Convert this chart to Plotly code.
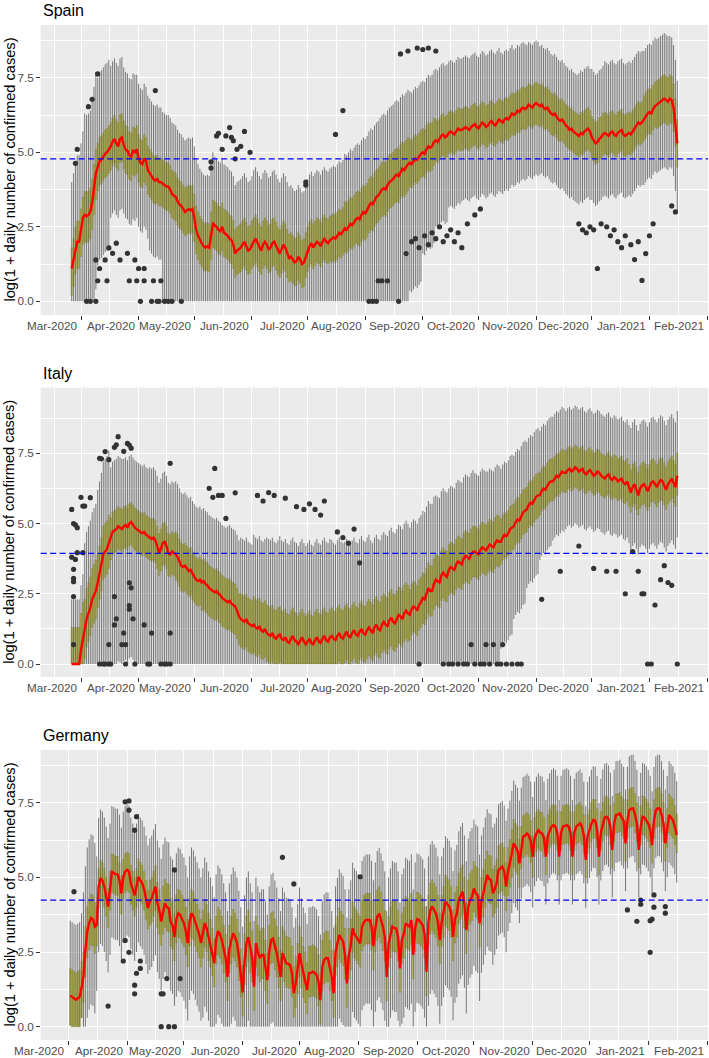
import numpy as np
import pandas as pd
import plotly.graph_objects as go

# ---------------- data ----------------
BASE = pd.Timestamp("2020-03-01")          # day 0
MONTH_TICKS = pd.date_range("2020-03-01", "2021-02-01", freq="MS")
TICK_FORMAT = "%b-%Y"
Y_TICKS = [0.0, 2.5, 5.0, 7.5]
Y_TICK_TEXT = ["0.0", "2.5", "5.0", "7.5"]

# ---- Spain: daily medians from 2020-02-25 (day -5) ----
spain_start = -5
spain_med = [
    1.1, 1.4, 1.8, 2.0, 2.0, 2.4, 2.8,
    2.9, 2.85, 2.9, 3.0, 3.3, 3.8, 4.3,
    4.5, 4.7, 4.75, 4.85, 4.95, 5.0, 5.1,
    5.2, 5.35, 5.45, 5.3, 5.2, 5.45, 5.5,
    5.25, 5.1, 5.05, 4.9, 4.85, 5.05, 5.0,
    5.1, 4.8, 4.65, 4.6, 4.8, 4.7, 4.4,
    4.3, 4.2, 4.1, 4.05, 4.1, 4.0, 4.0,
    3.95, 3.9, 3.85, 3.85, 3.75, 3.6, 3.55,
    3.5, 3.35, 3.25, 3.2, 3.1, 3.0, 3.05,
    3.1, 3.05, 3.1, 2.8, 2.4, 2.2, 2.05,
    1.95, 1.85, 1.8, 1.85, 1.8, 2.2, 2.6,
    2.55, 2.5, 2.4, 2.35, 2.5, 2.3, 2.25,
    2.2, 2.1, 2.05, 1.9, 1.6, 1.7, 1.75,
    1.8, 1.9, 2.0, 1.85, 1.7, 1.75, 1.9,
    2.0, 2.1, 1.95, 1.8, 1.7, 1.9, 2.0,
    1.9, 1.75, 1.8, 1.95, 2.0, 1.85, 1.7,
    1.6, 1.75, 1.9, 1.8, 1.6, 1.45, 1.5,
    1.4, 1.3, 1.35, 1.5, 1.4, 1.25, 1.3,
    1.5, 1.7, 1.85, 1.95, 1.8, 1.9, 2.0,
    1.95, 1.85, 2.0, 2.1, 2.0, 1.95, 2.05,
    2.1, 2.15, 2.1, 2.2, 2.3, 2.25, 2.35,
    2.45, 2.4, 2.5, 2.6, 2.55, 2.65, 2.75,
    2.8, 2.75, 2.9, 3.0, 2.95, 3.05, 3.2,
    3.3, 3.25, 3.4, 3.5, 3.55, 3.65, 3.75,
    3.8, 3.75, 3.9, 4.0, 4.05, 4.1, 4.2,
    4.25, 4.2, 4.35, 4.45, 4.4, 4.5, 4.6,
    4.65, 4.6, 4.7, 4.8, 4.75, 4.85, 4.95,
    5.0, 4.95, 5.1, 5.2, 5.15, 5.2, 5.35,
    5.4, 5.35, 5.45, 5.55, 5.6, 5.5, 5.55,
    5.65, 5.7, 5.65, 5.6, 5.7, 5.8, 5.75,
    5.75, 5.8, 5.85, 5.8, 5.75, 5.85, 5.9,
    5.95, 5.85, 5.8, 5.9, 6.0, 5.95, 5.85,
    5.9, 6.0, 6.05, 5.95, 5.9, 6.0, 6.1,
    6.05, 6.0, 6.1, 6.15, 6.1, 6.2, 6.3,
    6.25, 6.3, 6.4, 6.35, 6.45, 6.5, 6.45,
    6.5, 6.6, 6.55, 6.5, 6.6, 6.65, 6.6,
    6.55, 6.6, 6.5, 6.45, 6.5, 6.4, 6.3,
    6.25, 6.3, 6.2, 6.1, 6.05, 6.1, 6.0,
    5.9, 5.85, 5.75, 5.8, 5.7, 5.65, 5.6,
    5.55, 5.65, 5.6, 5.7, 5.75, 5.8, 5.7,
    5.5, 5.4, 5.3, 5.35, 5.45, 5.5, 5.6,
    5.65, 5.6, 5.55, 5.65, 5.7, 5.6, 5.55,
    5.65, 5.7, 5.75, 5.6, 5.55, 5.6, 5.65,
    5.6, 5.7, 5.8, 5.9, 6.0, 5.95, 6.0,
    6.1, 6.2, 6.3, 6.35, 6.3, 6.45, 6.55,
    6.6, 6.65, 6.7, 6.75, 6.8, 6.75, 6.7,
    6.8, 6.75, 6.5, 6.0, 5.3,
]
# weekly spreads (one value per 7 days): median-Q1, Q3-median, Q3->upper whisker, Q1->lower whisker
spain_q1_gap = [0.9, 0.9, 0.8, 0.8, 0.8, 0.8, 0.8, 0.8, 0.8, 0.8, 0.8, 0.8, 0.8, 0.8, 0.8, 0.8,
                0.8, 0.8, 0.7, 0.7, 0.8, 0.8, 0.9, 0.9, 0.9, 0.9, 0.8, 0.8, 0.7, 0.7, 0.7, 0.7,
                0.7, 0.7, 0.7, 0.7, 0.7, 0.7, 0.7, 0.7, 0.7, 0.7, 0.7, 0.7, 0.7, 0.8, 0.8]
spain_q3_gap = [0.7, 0.8, 0.8, 0.8, 0.8, 0.8, 0.8, 0.8, 0.8, 0.8, 0.8, 0.8, 0.8, 0.8, 0.8, 0.8,
                0.8, 0.8, 0.8, 0.8, 0.8, 0.9, 0.9, 0.9, 0.9, 0.9, 0.8, 0.8, 0.7, 0.7, 0.7, 0.7,
                0.7, 0.7, 0.7, 0.7, 0.7, 0.7, 0.7, 0.7, 0.7, 0.7, 0.7, 0.7, 0.8, 0.8, 0.8]
spain_top_gap = [2.2, 2.6, 2.2, 1.9, 1.8, 1.7, 1.7, 1.6, 1.6, 1.6, 1.6, 1.5, 1.5, 1.5, 1.6, 1.6,
                 1.6, 1.6, 1.6, 1.6, 1.6, 1.6, 1.6, 1.6, 1.6, 1.6, 1.6, 1.6, 1.7, 1.7, 1.7, 1.7,
                 1.7, 1.6, 1.5, 1.4, 1.3, 1.3, 1.3, 1.4, 1.6, 1.7, 1.7, 1.7, 1.5, 1.4, 1.3]
spain_low_gap = [2.5, 3.0, 2.5, 1.6, 1.5, 1.5, 1.8, 4.0, 4.0, 4.0, 4.0, 4.0, 4.0, 4.0, 4.0, 4.0,
                 4.0, 4.0, 4.0, 4.0, 4.0, 4.0, 4.0, 4.0, 4.0, 4.0, 3.5, 2.6, 2.2, 1.8, 1.7, 1.7,
                 1.7, 1.7, 1.7, 1.7, 1.6, 1.6, 1.6, 1.6, 1.4, 1.4, 1.4, 1.4, 1.5, 1.5, 1.5]
spain_out_day = [-3, -2, 4, 6, 9, 40,
                 3, 5, 8, 8, 10, 9, 14, 13, 15, 17, 19, 21, 25, 26, 29, 30, 31, 34, 34, 32,
                 38, 39, 41, 42, 43, 45, 47, 49, 54,
                 70, 70, 73, 74, 76, 78, 80, 81, 82, 83, 84, 86, 88, 91,
                 121, 121, 137, 141, 172, 176, 181, 184, 187, 191,
                 155, 157, 159, 171, 160, 162, 165, 175, 178, 180, 182, 185, 187, 189, 191,
                 193, 195, 197, 199, 201, 203, 205, 208, 212, 215,
                 268, 270, 272, 274, 276, 278, 280, 283, 285, 287, 289, 291, 293, 296, 298,
                 300, 302, 304, 306, 308, 318, 320]
spain_out_val = [4.63, 5.1, 6.53, 6.78, 7.63, 7.07,
                 0.0, 0.0, 0.0, 1.39, 1.1, 0.69, 0.69, 1.39, 1.79, 1.61, 1.95, 1.39, 1.61, 0.69,
                 1.39, 0.69, 1.1, 1.1, 0.69, 0.0,
                 0.0, 0.69, 0.0, 0.0, 0.69, 0.0, 0.0, 0.0, 0.0,
                 4.47, 4.68, 5.55, 5.64, 5.1, 5.55, 5.83, 5.5, 5.39, 4.78, 5.1, 5.2, 5.7, 5.0,
                 4.0, 3.9, 5.6, 6.4, 8.3, 8.4, 8.5, 8.45, 8.5, 8.4,
                 0.0, 0.0, 0.0, 0.0, 0.69, 0.69, 0.69, 1.6, 2.0, 2.1, 1.8, 2.2, 1.9, 2.3, 2.1,
                 2.5, 2.0, 2.2, 2.4, 2.0, 2.3, 1.8, 2.6, 2.9, 3.1,
                 2.6, 2.4, 2.3, 2.5, 2.4, 1.1, 2.6, 2.5, 2.2, 2.4, 2.0, 1.8, 2.2, 1.9, 1.4,
                 2.0, 0.7, 1.6, 2.2, 2.6, 3.2, 3.0]
spain_ref = 4.78

# ---- Italy: daily medians from 2020-02-25 (day -5) ----
italy_start = -5
italy_med = [
    0.0, 0.0, 0.0, 0.0, 0.0, 0.5, 0.9,
    1.2, 1.6, 1.8, 2.0, 2.3, 2.45, 2.6,
    2.9, 3.2, 3.5, 3.9, 4.0, 4.1, 4.3,
    4.5, 4.7, 4.75, 4.8, 4.9, 4.85, 4.8,
    4.9, 4.95, 4.85, 5.0, 5.05, 4.95, 4.85,
    4.8, 4.75, 4.7, 4.65, 4.7, 4.6, 4.55,
    4.5, 4.45, 4.5, 4.4, 4.2, 3.95, 4.1,
    4.3, 4.35, 4.2, 3.95, 3.9, 4.0, 3.95,
    3.9, 3.8, 3.65, 3.5, 3.45, 3.5, 3.4,
    3.3, 3.35, 3.2, 3.1, 3.0, 2.95, 3.0,
    2.9, 2.95, 2.85, 2.8, 2.7, 2.65, 2.6,
    2.55, 2.6, 2.5, 2.45, 2.35, 2.3, 2.25,
    2.2, 2.25, 2.15, 2.1, 2.05, 1.9, 1.7,
    1.6, 1.55, 1.5, 1.6, 1.45, 1.4, 1.35,
    1.4, 1.3, 1.25, 1.35, 1.2, 1.15, 1.25,
    1.1, 1.05, 1.0, 1.1, 0.95, 0.9, 1.0,
    1.05, 0.9, 0.85, 0.95, 0.8, 0.75, 0.9,
    1.0, 0.85, 0.8, 0.7, 0.85, 0.95, 0.8,
    0.7, 0.8, 0.9, 0.75, 0.7, 0.85, 0.95,
    0.8, 0.75, 0.9, 1.0, 0.85, 0.8, 0.95,
    1.0, 0.9, 0.85, 1.0, 1.1, 0.95, 0.9,
    1.05, 1.15, 1.0, 0.95, 1.1, 1.2, 1.05,
    1.0, 1.15, 1.25, 1.1, 1.05, 1.2, 1.3,
    1.2, 1.1, 1.3, 1.4, 1.25, 1.2, 1.4,
    1.5, 1.4, 1.35, 1.55, 1.65, 1.5, 1.45,
    1.6, 1.75, 1.7, 1.6, 1.8, 1.9, 1.8,
    1.75, 1.95, 2.05, 2.0, 1.9, 2.1, 2.2,
    2.35, 2.3, 2.5, 2.7, 2.6, 2.6, 2.85,
    3.0, 2.95, 2.9, 3.15, 3.25, 3.15, 3.1,
    3.35, 3.45, 3.4, 3.35, 3.55, 3.65, 3.6,
    3.55, 3.75, 3.85, 3.8, 3.75, 3.9, 4.0,
    4.0, 3.95, 3.9, 4.05, 4.15, 4.1, 4.05,
    4.15, 4.25, 4.2, 4.15, 4.3, 4.4, 4.35,
    4.35, 4.5, 4.6, 4.55, 4.65, 4.8, 4.85,
    4.9, 5.05, 5.15, 5.1, 5.25, 5.4, 5.45,
    5.5, 5.65, 5.75, 5.7, 5.85, 5.95, 6.0,
    6.0, 6.15, 6.25, 6.2, 6.35, 6.45, 6.5,
    6.5, 6.6, 6.7, 6.65, 6.75, 6.85, 6.8,
    6.8, 6.9, 6.95, 6.85, 6.9, 7.0, 6.95,
    6.85, 6.9, 6.95, 6.8, 6.75, 6.85, 6.9,
    6.8, 6.7, 6.75, 6.85, 6.8, 6.7, 6.65,
    6.6, 6.7, 6.75, 6.6, 6.55, 6.65, 6.6,
    6.5, 6.55, 6.6, 6.45, 6.4, 6.5, 6.3,
    6.1, 6.3, 6.4, 6.2, 6.0, 6.25, 6.35,
    6.4, 6.3, 6.15, 6.3, 6.45, 6.5, 6.4,
    6.3, 6.45, 6.55, 6.5, 6.35, 6.2, 6.4,
    6.5, 6.6, 6.45, 6.3, 6.7,
]
italy_q1_gap = [1.0, 1.0, 0.9, 0.8, 0.8, 0.8, 0.8, 0.8, 0.9, 0.9, 1.0, 1.0, 1.0, 1.0, 1.0, 1.0,
                1.0, 1.0, 1.0, 1.0, 1.0, 1.0, 1.0, 1.0, 1.0, 1.0, 0.9, 0.9, 0.9, 0.9, 0.9, 0.9,
                0.9, 0.8, 0.8, 0.8, 0.7, 0.7, 0.7, 0.7, 0.7, 0.7, 0.7, 0.7, 0.7, 0.7, 0.7]
italy_q3_gap = [1.3, 1.1, 1.0, 0.7, 0.7, 0.7, 0.7, 0.7, 0.8, 0.8, 0.8, 0.8, 0.8, 0.9, 1.0, 1.0,
                1.0, 1.0, 1.0, 1.0, 1.0, 1.0, 1.0, 1.0, 1.0, 1.0, 0.9, 0.9, 0.9, 0.9, 0.9, 0.9,
                0.9, 0.8, 0.8, 0.8, 0.8, 0.8, 0.8, 0.8, 0.8, 0.8, 0.8, 0.8, 0.8, 0.8, 0.8]
italy_top_gap = [1.0, 2.0, 2.3, 1.8, 1.7, 1.7, 1.8, 1.8, 1.8, 1.8, 1.8, 1.8, 1.9, 2.0, 2.2, 2.4,
                 2.5, 2.5, 2.5, 2.5, 2.4, 2.3, 2.3, 2.2, 2.2, 2.2, 2.2, 2.2, 2.1, 2.0, 2.0, 1.9,
                 1.8, 1.8, 1.7, 1.6, 1.5, 1.5, 1.4, 1.4, 1.4, 1.4, 1.4, 1.5, 1.5, 1.5, 1.5]
italy_low_gap = [0.0, 2.0, 4.0, 4.0, 4.0, 4.0, 4.0, 4.0, 4.0, 4.0, 4.0, 4.0, 4.0, 4.0, 4.0, 4.0,
                 4.0, 4.0, 4.0, 4.0, 4.0, 4.0, 4.0, 4.0, 4.0, 4.0, 4.0, 4.0, 4.0, 4.0, 4.0, 4.0,
                 4.0, 3.0, 2.5, 2.0, 1.6, 1.4, 1.3, 1.3, 1.3, 1.3, 1.3, 1.4, 1.5, 1.5, 1.5]
italy_out_day = [-5, -4, -3, -2, 0, 1, 2, 5,
                 -5, -4, -4, -4, -4, -4, -3, -2, 1,
                 10, 11, 13, 15, 18, 19, 20, 23, 25, 26, 27, 48,
                 72, 69, 71, 74, 76, 78, 83,
                 10, 12, 13, 15, 16, 15, 18, 18, 19, 23, 22, 24, 24, 26, 26, 26, 27, 28, 29,
                 34, 36, 37, 38, 43, 45, 46, 48, 48,
                 95, 98, 101, 104, 110, 116, 120, 123, 126, 129, 131, 138, 141, 144, 147, 150,
                 182, 195, 198, 200, 203, 206, 208, 212, 215, 217, 220, 224, 226, 229, 232, 235,
                 237, 210, 218, 222, 227,
                 248, 258, 268, 276, 283, 288, 293, 297, 300, 302, 303, 305, 307, 309, 312, 314,
                 316, 318, 321]
italy_out_val = [5.5, 5.0, 4.95, 4.85, 5.93, 5.62, 5.62, 5.92,
                 3.8, 3.37, 3.05, 2.93, 2.4, 0.69, 3.72, 3.96, 3.96,
                 7.32, 7.3, 7.56, 7.27, 7.71, 7.8, 8.09, 7.57, 7.85, 7.79, 7.68, 7.14,
                 6.96, 6.25, 5.93, 6.0, 6.0, 5.18, 6.09,
                 0.0, 0.0, 0.0, 0.0, 0.0, 0.69, 1.39, 2.4, 1.61, 1.1, 0.69, 0.69, 0.0, 2.08,
                 1.95, 2.89, 2.71, 1.61, 0.0,
                 1.39, 0.0, 0.0, 1.1, 0.0, 0.0, 0.0, 0.0, 1.1,
                 6.0, 5.8, 6.1, 6.0, 5.9, 5.6, 5.5, 5.7, 5.5, 5.3, 5.8, 4.7, 4.5, 4.3, 4.8, 3.6,
                 0.0, 0.0, 0.0, 0.0, 0.0, 0.0, 0.0, 0.0, 0.0, 0.0, 0.0, 0.0, 0.0, 0.0, 0.0, 0.0,
                 0.0, 0.69, 0.69, 0.69, 0.69,
                 2.3, 3.3, 4.2, 3.4, 3.3, 3.3, 2.5, 4.0, 3.3, 2.5, 2.5, 0.0, 0.0, 2.1, 3.0, 3.5,
                 2.9, 2.8, 0.0]
italy_ref = 3.94

# ---- Germany: daily medians from 2020-03-02 (day 1) ----
germany_start = 1
germany_med = [
    1.05, 1.0, 0.95, 0.9, 0.95, 1.0, 1.3,
    1.7, 2.57, 3.2, 3.47, 3.64, 3.6, 3.35,
    3.4, 4.69, 4.97, 4.9, 4.7, 4.4, 4.02,
    4.6, 5.19, 5.15, 5.1, 5.1, 4.9, 4.46,
    5.0, 5.19, 5.25, 5.2, 4.8, 4.6, 4.4,
    4.7, 5.02, 4.9, 4.8, 4.6, 4.3, 3.97,
    4.2, 4.3, 4.5, 4.69, 4.13, 3.9, 3.52,
    3.9, 4.13, 4.0, 3.97, 3.5, 3.4, 3.0,
    3.6, 3.8, 3.75, 3.6, 3.47, 3.2, 2.8,
    3.5, 3.8, 3.7, 3.5, 3.3, 3.1, 2.8,
    3.1, 3.47, 3.3, 3.0, 2.8, 2.5, 2.13,
    2.9, 3.2, 3.1, 2.9, 2.6, 2.3, 1.67,
    2.6, 2.9, 3.13, 3.0, 2.8, 2.35, 1.8,
    1.15, 2.2, 2.8, 3.0, 2.6, 2.3, 1.34,
    2.8, 2.5, 2.3, 2.4, 2.4, 2.0, 1.56,
    2.5, 2.9, 2.95, 2.7, 2.46, 2.1, 1.67,
    2.46, 2.3, 2.12, 2.1, 2.07, 1.8, 1.12,
    1.45, 1.9, 2.46, 2.1, 1.79, 1.6, 1.23,
    1.79, 1.8, 1.84, 1.8, 1.73, 1.5, 0.89,
    2.0, 2.23, 2.3, 2.29, 2.0, 1.67, 1.12,
    2.5, 2.79, 3.07, 2.95, 2.85, 2.4, 1.45,
    2.4, 2.7, 3.29, 3.1, 3.01, 2.9, 2.79,
    3.35, 3.5, 3.57, 3.57, 3.57, 3.35, 2.7,
    3.3, 3.68, 3.79, 3.6, 3.35, 3.0, 1.67,
    2.8, 3.1, 3.35, 3.3, 3.29, 3.0, 1.95,
    2.9, 3.1, 3.46, 3.4, 3.35, 3.57, 2.4,
    3.3, 3.6, 3.57, 3.5, 3.4, 3.1, 1.84,
    3.5, 3.9, 4.02, 3.9, 3.79, 3.5, 2.9,
    3.5, 3.79, 4.18, 4.1, 4.02, 3.8, 3.01,
    3.6, 3.79, 4.24, 4.4, 4.52, 4.1, 3.24,
    4.0, 4.24, 4.35, 4.63, 4.47, 4.4, 3.46,
    4.2, 4.47, 4.8, 5.08, 4.95, 4.91, 4.47,
    4.6, 4.8, 5.25, 5.3, 5.36, 5.2, 4.69,
    5.2, 5.47, 5.8, 6.14, 6.0, 5.9, 5.47,
    6.0, 6.36, 6.4, 6.47, 6.4, 6.2, 5.69,
    6.3, 6.47, 6.58, 6.5, 6.47, 6.3, 5.69,
    6.4, 6.58, 6.7, 6.75, 6.7, 6.5, 5.69,
    6.5, 6.7, 6.72, 6.75, 6.7, 6.5, 5.69,
    6.5, 6.7, 6.75, 6.81, 6.7, 6.4, 5.58,
    6.4, 6.58, 6.8, 6.92, 6.9, 6.6, 5.69,
    6.5, 6.81, 7.0, 7.03, 6.95, 6.7, 5.92,
    6.8, 7.09, 7.1, 7.14, 7.0, 6.9, 6.14,
    6.9, 7.25, 7.3, 7.31, 7.1, 6.8, 5.92,
    6.7, 7.03, 7.0, 6.92, 6.8, 6.6, 6.08,
    6.9, 7.25, 7.31, 7.3, 7.1, 6.8, 6.14,
    6.6, 7.09, 7.0, 6.92, 6.7, 6.42,
]
germany_q1_gap = [1.0, 0.9, 0.7, 0.7, 0.7, 0.7, 0.8, 0.8, 0.8, 0.8, 0.8, 0.8, 0.8, 0.8, 0.8, 0.8,
                  0.8, 0.8, 0.8, 0.8, 0.8, 0.8, 0.8, 0.8, 0.8, 0.8, 0.8, 0.8, 0.8, 0.8, 0.8, 0.8,
                  0.8, 0.8, 0.7, 0.6, 0.6, 0.6, 0.6, 0.6, 0.6, 0.6, 0.6, 0.6, 0.6, 0.6]
germany_q3_gap = [0.9, 0.8, 0.6, 0.6, 0.6, 0.6, 0.7, 0.8, 0.8, 0.8, 0.8, 0.8, 0.8, 0.9, 0.9, 0.9,
                  0.9, 0.9, 0.9, 0.9, 0.9, 0.9, 0.9, 0.9, 0.9, 0.9, 0.9, 0.9, 0.9, 0.9, 0.9, 0.8,
                  0.8, 0.8, 0.7, 0.7, 0.7, 0.7, 0.7, 0.7, 0.7, 0.7, 0.7, 0.7, 0.7, 0.7]
germany_top_gap = [1.6, 2.0, 1.7, 1.6, 1.6, 1.5, 1.4, 1.4, 1.4, 1.4, 1.4, 1.4, 1.4, 1.3, 1.3, 1.3,
                   1.3, 1.3, 1.3, 1.3, 1.3, 1.3, 1.3, 1.3, 1.3, 1.3, 1.3, 1.3, 1.3, 1.4, 1.4, 1.4,
                   1.4, 1.3, 1.3, 1.2, 1.2, 1.2, 1.1, 1.1, 1.1, 1.1, 1.1, 1.1, 1.1, 1.1]
germany_low_gap = [0.0, 2.0, 1.5, 1.5, 1.5, 1.5, 1.5, 1.5, 1.8, 1.8, 2.0, 2.0, 2.0, 2.0, 2.0, 2.0,
                   2.0, 2.0, 2.0, 2.0, 2.0, 2.0, 2.0, 2.0, 2.0, 2.0, 2.0, 2.0, 2.0, 2.0, 1.8, 1.6,
                   1.4, 1.2, 1.0, 1.0, 1.0, 1.0, 1.0, 1.0, 1.0, 1.0, 1.0, 1.0, 1.0, 1.0]
germany_out_day = [3, 21, 29, 30, 32, 30, 32, 32, 35, 36, 35, 35, 36, 38, 38,
                   49, 49, 50, 52, 53, 56, 56, 59,
                   113, 119, 154,
                   295, 300, 302, 302, 307, 307, 308, 309, 309, 315, 315]
germany_out_val = [4.52, 0.69, 2.2, 2.89, 2.49, 7.53, 7.56, 7.25, 6.58, 7.03, 1.39, 1.1, 1.79,
                   1.95, 2.2,
                   0.0, 1.1, 1.1, 1.61, 0.0, 0.0, 5.25, 1.61,
                   5.67, 4.78, 5.02,
                   3.91, 3.53, 4.24, 4.1, 2.49, 3.55, 3.6, 4.41, 4.0, 4.02, 3.8]
germany_ref = 4.24

# ---------------- figure ----------------
W, H = 709, 1058
FONT = "Liberation Sans, Arial, Helvetica, sans-serif"
PANEL_LEFT, PANEL_RIGHT = 40.7, 708.0

panels = [
    dict(name="Spain", start=spain_start, med=spain_med, a=spain_q1_gap, b=spain_q3_gap,
         c=spain_top_gap, e=spain_low_gap, od=spain_out_day, ov=spain_out_val, ref=spain_ref,
         top=25.0, bottom=315.0, y0=301.3, ppu=29.8, xm=81.0, ppd=1.8576),
    dict(name="Italy", start=italy_start, med=italy_med, a=italy_q1_gap, b=italy_q3_gap,
         c=italy_top_gap, e=italy_low_gap, od=italy_out_day, ov=italy_out_val, ref=italy_ref,
         top=387.7, bottom=677.0, y0=664.0, ppu=28.1, xm=81.0, ppd=1.8576),
    dict(name="Germany", start=germany_start, med=germany_med, a=germany_q1_gap, b=germany_q3_gap,
         c=germany_top_gap, e=germany_low_gap, od=germany_out_day, ov=germany_out_val, ref=germany_ref,
         top=750.0, bottom=1040.0, y0=1026.7, ppu=29.87, xm=68.3, ppd=1.8953),
]

DAY = pd.Timedelta(days=1)
minor_ticks = [pd.Timestamp("2020-02-01") + (MONTH_TICKS[0] - pd.Timestamp("2020-02-01")) / 2]
minor_ticks += [MONTH_TICKS[i] + (MONTH_TICKS[i + 1] - MONTH_TICKS[i]) / 2 for i in range(len(MONTH_TICKS) - 1)]

fig = go.Figure()
layout = dict(width=W, height=H, margin=dict(l=0, r=0, t=0, b=0, autoexpand=False),
              paper_bgcolor="white", plot_bgcolor="#EBEBEB", showlegend=False,
              barmode="overlay", font=dict(family=FONT))
annotations = []
shapes = []

for k, p in enumerate(panels, start=1):
    sfx = "" if k == 1 else str(k)
    xa, ya = "x" + sfx, "y" + sfx
    med = np.array(p["med"], dtype=float)
    n = len(med)
    days = p["start"] + np.arange(n)
    dates = BASE + pd.to_timedelta(days, unit="D")
    dstr = dates.strftime("%Y-%m-%d").tolist()
    a = np.repeat(p["a"], 7)[:n]
    b = np.repeat(p["b"], 7)[:n]
    c = np.repeat(p["c"], 7)[:n]
    e = np.repeat(p["e"], 7)[:n]
    q1 = np.clip(med - a, 0, None)
    q3 = med + b
    lo = np.clip(q1 - e, 0, None)
    hi = q3 + c

    wx, wy = [], []
    for d, l, h in zip(dstr, lo, hi):
        wx += [d, d, None]
        wy += [l, h, None]
    fig.add_trace(go.Scatter(x=wx, y=wy, mode="lines", xaxis=xa, yaxis=ya,
                             line=dict(color="#5a5a5a", width=0.8), hoverinfo="skip"))
    fig.add_trace(go.Bar(x=dstr, y=q3 - q1, base=q1, xaxis=xa, yaxis=ya,
                         width=0.74 * 86400000,
                         marker=dict(color="#F2F200", line=dict(color="#333333", width=0.25))))
    fig.add_trace(go.Scatter(x=dstr, y=med, mode="lines", xaxis=xa, yaxis=ya,
                             line=dict(color="#FF0000", width=2.4)))
    od = BASE + pd.to_timedelta(np.array(p["od"]), unit="D")
    fig.add_trace(go.Scatter(x=od.strftime("%Y-%m-%d").tolist(), y=p["ov"], mode="markers",
                             xaxis=xa, yaxis=ya,
                             marker=dict(color="#333333", size=5.2, line=dict(width=0))))
    shapes.append(dict(type="line", xref=xa + " domain", yref=ya, x0=0, x1=1,
                       y0=p["ref"], y1=p["ref"], layer="above",
                       line=dict(color="#0000FF", width=1.3, dash="6px,3.5px")))

    x_lo = BASE + (PANEL_LEFT - p["xm"]) / p["ppd"] * DAY
    x_hi = BASE + (PANEL_RIGHT - p["xm"]) / p["ppd"] * DAY
    y_lo = -(p["bottom"] - p["y0"]) / p["ppu"]
    y_hi = (p["y0"] - p["top"]) / p["ppu"]

    layout["xaxis" + sfx] = dict(
        domain=[PANEL_LEFT / W, PANEL_RIGHT / W], anchor=ya, type="date",
        range=[x_lo, x_hi], tickmode="array", tickvals=list(MONTH_TICKS),
        ticks="outside", ticklen=3.6, tickwidth=1.1, tickcolor="#333333",
        showticklabels=False, automargin=False,
        showgrid=True, gridcolor="white", gridwidth=1.3, zeroline=False, showline=False,
        minor=dict(tickmode="array", tickvals=minor_ticks, showgrid=True,
                   gridcolor="white", gridwidth=0.65, ticks=""),
        fixedrange=True)
    layout["yaxis" + sfx] = dict(
        domain=[1 - p["bottom"] / H, 1 - p["top"] / H], anchor=xa, automargin=False,
        range=[y_lo, y_hi], tickmode="array", tickvals=Y_TICKS, ticktext=Y_TICK_TEXT,
        ticks="outside", ticklen=3.6, tickwidth=1.1, tickcolor="#333333",
        tickfont=dict(size=11.7, color="#4D4D4D", family=FONT),
        showgrid=True, gridcolor="white", gridwidth=1.3, zeroline=False, showline=False,
        minor=dict(tickmode="array", tickvals=[1.25, 3.75, 6.25, 8.75], showgrid=True,
                   gridcolor="white", gridwidth=0.65, ticks=""),
        fixedrange=True)

    # month labels, right-aligned at their tick (as in the reference)
    for m in MONTH_TICKS:
        annotations.append(dict(text=m.strftime(TICK_FORMAT), xref=xa, x=m,
                                yref="paper", y=1 - (p["bottom"] + 10.5) / H,
                                xanchor="right", yanchor="middle", xshift=-1, showarrow=False,
                                font=dict(size=11.7, color="#4D4D4D", family=FONT)))

    annotations.append(dict(text=p["name"], xref="paper", yref="paper",
                            x=PANEL_LEFT / W, y=1 - (p["top"] - 14.5) / H,
                            xanchor="left", yanchor="middle", showarrow=False,
                            font=dict(size=16, color="black", family=FONT)))
    annotations.append(dict(text="log(1 + daily number of confirmed cases)",
                            xref="paper", yref="paper", x=9.5 / W,
                            y=1 - ((p["top"] + p["bottom"]) / 2) / H,
                            xanchor="center", yanchor="middle", textangle=-90, showarrow=False,
                            font=dict(size=14.6, color="black", family=FONT)))

layout["annotations"] = annotations
layout["shapes"] = shapes
fig.update_layout(**layout)
fig.write_html("out.html", config={"displayModeBar": False},
               post_script="document.body.style.margin='0px';document.body.style.padding='0px';")
